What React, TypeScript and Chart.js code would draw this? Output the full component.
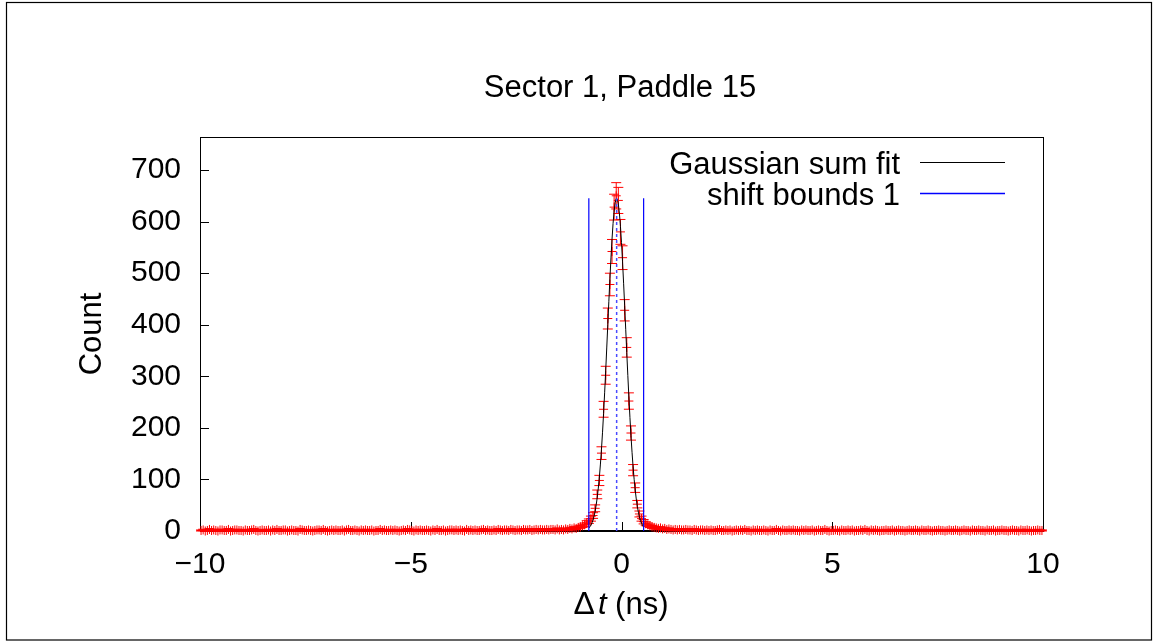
import React, { useEffect, useRef } from "react";
import { Chart, registerables } from "chart.js";

Chart.register(...registerables);

// ---- data ----
const binStart = -10;
const binWidth = 0.05;

// counts for bins centred at -9.975 ... -1.525
const leftBaselineCounts = [
  1, 2, 0, 1, 3, 1, 2, 1, 0, 2,
  2, 1, 1, 3, 0, 1, 2, 2, 1, 1,
  0, 2, 1, 1, 2, 3, 1, 0, 1, 2,
  1, 1, 2, 0, 2, 1, 3, 1, 1, 2,
  2, 0, 1, 2, 1, 1, 0, 3, 2, 1,
  1, 2, 1, 0, 1, 2, 2, 1, 3, 1,
  0, 1, 2, 1, 2, 1, 1, 2, 0, 2,
  3, 1, 1, 2, 1, 0, 2, 1, 2, 1,
  1, 2, 0, 1, 1, 3, 1, 2, 1, 1,
  2, 1, 2, 1, 0, 1, 2, 1, 3, 2,
  1, 0, 2, 1, 2, 1, 1, 2, 1, 0,
  2, 1, 3, 1, 1, 2, 0, 1, 2, 2,
  1, 2, 1, 2, 1, 0, 3, 1, 2, 1,
  2, 1, 1, 2, 3, 1, 2, 1, 1, 2,
  1, 3, 2, 1, 2, 2, 1, 3, 2, 1,
  2, 2, 1, 3, 2, 2, 3, 1, 2, 3,
  2, 3, 2, 2, 3, 2, 3, 3, 2, 4,
];

// counts for bins centred at -1.475 ... 1.475
const peakCounts = [
  2, 3, 2, 4, 3, 5, 4, 6, 5, 7,
  8, 10, 12, 16, 19, 24, 30, 44, 71, 98,
  151, 236, 302, 412, 478, 542, 628, 650, 641, 580,
  530, 428, 356, 252, 190, 118, 84, 52, 33, 24,
  18, 14, 12, 10, 8, 7, 6, 5, 6, 4,
  5, 3, 4, 3, 2, 3, 2, 3, 2, 2,
];

// counts for bins centred at 1.525 ... 9.975
const rightBaselineCounts = [
  3, 2, 2, 1, 3, 2, 1, 2, 2, 1,
  2, 1, 2, 1, 1, 2, 3, 1, 1, 2,
  1, 2, 0, 1, 2, 1, 2, 1, 3, 1,
  1, 0, 2, 1, 2, 1, 1, 2, 1, 0,
  2, 1, 1, 3, 1, 0, 2, 1, 1, 2,
  1, 2, 1, 1, 0, 2, 1, 2, 1, 1,
  2, 0, 1, 2, 1, 1, 3, 1, 0, 1,
  1, 2, 1, 0, 2, 1, 1, 2, 1, 2,
  0, 1, 1, 2, 1, 3, 1, 0, 2, 1,
  2, 1, 0, 1, 1, 2, 1, 1, 2, 0,
  1, 2, 1, 1, 0, 1, 2, 1, 1, 2,
  1, 0, 2, 1, 1, 2, 1, 0, 1, 1,
  2, 1, 1, 0, 1, 2, 1, 1, 2, 1,
  0, 1, 2, 1, 1, 0, 2, 1, 1, 2,
  1, 1, 0, 2, 1, 1, 2, 0, 1, 1,
  2, 1, 1, 0, 1, 2, 1, 1, 0, 2,
  1, 1, 2, 1, 0, 1, 1, 2, 1, 1,
];

// Gaussian sum fit curve, drawn between the shift bounds
const fitX = [
  -0.775, -0.75, -0.725, -0.7, -0.675, -0.65, -0.625, -0.6, -0.575, -0.55,
  -0.525, -0.5, -0.475, -0.45, -0.425, -0.4, -0.375, -0.35, -0.325, -0.3,
  -0.275, -0.25, -0.225, -0.2, -0.175, -0.15, -0.125, -0.1, -0.075, -0.05,
  -0.025, 0, 0.025, 0.05, 0.075, 0.1, 0.125, 0.15, 0.175, 0.2,
  0.225, 0.25, 0.275, 0.3, 0.325, 0.35, 0.375, 0.4, 0.425, 0.45,
  0.475, 0.5, 0.525,
];
const fitY = [
  5.8, 8.2, 11.5, 15.9, 21.7, 29.2, 38.7, 50.7, 65.4, 83.3,
  104.7, 129.8, 158.7, 191.6, 228.1, 267.9, 310.4, 354.9, 400.3, 445.4,
  489.0, 529.6, 565.9, 596.5, 620.4, 636.5, 644.3, 643.4, 633.9, 616.2,
  590.9, 559.0, 521.8, 480.5, 436.5, 391.2, 345.9, 301.8, 259.7, 220.5,
  184.7, 152.7, 124.5, 100.1, 79.5, 62.2, 48.0, 36.6, 27.5, 20.4,
  15.0, 10.8, 7.7,
];

const boundLow = -0.775;
const boundHigh = 0.525;
const peakCenter = -0.115;
const boundTop = 645;

const xTicks = [-10, -5, 0, 5, 10];
const yTicks = [0, 100, 200, 300, 400, 500, 600, 700];
const xMin = -10;
const xMax = 10;
const yMin = 0;
const yMax = 764;

const titleText = "Sector 1, Paddle 15";
const yTitle = "Count";
const legendLabels = ["Gaussian sum fit", "shift bounds 1"];

const FONT = '"Liberation Sans", Arial, Helvetica, sans-serif';

const fmt = (v: number) => (v < 0 ? "\u2212" + Math.abs(v) : String(v));

export default function App() {
  const ref = useRef<HTMLCanvasElement | null>(null);

  useEffect(() => {
    const canvas = ref.current;
    if (!canvas) return;

    const counts = [...leftBaselineCounts, ...peakCounts, ...rightBaselineCounts];
    const histPoints = counts.map((c, i) => ({ x: binStart + binWidth * (i + 0.5), y: c }));
    const fitPoints = fitX.map((x, i) => ({ x, y: fitY[i] }));

    const decor = {
      id: "decor",
      beforeDatasetsDraw(chart: any) {
        const { ctx, chartArea: a, scales } = chart;
        const xs = scales.x;
        const ys = scales.y;
        ctx.save();
        // plot frame
        ctx.strokeStyle = "#000";
        ctx.lineWidth = 1;
        ctx.strokeRect(a.left + 0.5, a.top + 0.5, a.right - a.left, a.bottom - a.top);
        ctx.lineWidth = 2;
        ctx.beginPath();
        ctx.moveTo(a.left, a.bottom);
        ctx.lineTo(a.right + 1, a.bottom);
        ctx.stroke();
        // inner ticks
        ctx.lineWidth = 1;
        ctx.beginPath();
        for (const v of yTicks) {
          const py = Math.round(ys.getPixelForValue(v)) + 0.5;
          ctx.moveTo(a.left, py);
          ctx.lineTo(a.left + 9, py);
        }
        for (const v of xTicks) {
          const px = Math.round(xs.getPixelForValue(v)) + 0.5;
          ctx.moveTo(px, a.bottom);
          ctx.lineTo(px, a.bottom - 9);
        }
        ctx.stroke();
        // error bars
        ctx.strokeStyle = "#ff0000";
        ctx.lineWidth = 1;
        ctx.beginPath();
        for (const p of histPoints) {
          const px = xs.getPixelForValue(p.x);
          const e = Math.sqrt(p.y);
          const y1 = ys.getPixelForValue(p.y - e);
          const y2 = ys.getPixelForValue(p.y + e);
          ctx.moveTo(px, y1);
          ctx.lineTo(px, y2);
          ctx.moveTo(px - 5, y1);
          ctx.lineTo(px + 5, y1);
          ctx.moveTo(px - 5, y2);
          ctx.lineTo(px + 5, y2);
        }
        ctx.stroke();
        ctx.restore();
      },
      afterDraw(chart: any) {
        const { ctx } = chart;
        ctx.save();
        // outer frame
        ctx.strokeStyle = "#000";
        ctx.lineWidth = 1.2;
        ctx.strokeRect(6.5, 2.5, 1145, 637.5);

        ctx.fillStyle = "#000";
        ctx.font = `31px ${FONT}`;
        // title
        ctx.textAlign = "center";
        ctx.textBaseline = "alphabetic";
        ctx.fillText(titleText, 620, 97);

        // y title
        ctx.save();
        ctx.translate(101, 334);
        ctx.rotate(-Math.PI / 2);
        ctx.textAlign = "center";
        ctx.fillText(yTitle, 0, 0);
        ctx.restore();

        // x title: Δt (ns) with italic t
        const partA = "\u0394";
        const partB = "t";
        const partC = " (ns)";
        ctx.font = `32px ${FONT}`;
        const wA = ctx.measureText(partA).width;
        ctx.font = `31px ${FONT}`;
        const wC = ctx.measureText(partC).width;
        ctx.font = `italic 31px ${FONT}`;
        const wB = ctx.measureText(partB).width;
        const total = wA + wB + wC + 3;
        let sx = 621 - total / 2;
        const by = 614;
        ctx.textAlign = "left";
        ctx.font = `32px ${FONT}`;
        ctx.fillText(partA, sx, by);
        sx += wA + 3;
        ctx.font = `italic 31px ${FONT}`;
        ctx.fillText(partB, sx, by);
        sx += wB;
        ctx.font = `31px ${FONT}`;
        ctx.fillText(partC, sx, by);

        // legend
        const legendColors = ["rgb(0,0,0)", "rgb(0,0,255)"];
        const legendWidths = [1, 1.6];
        const lineYs = [162.5, 193.5];
        ctx.textAlign = "right";
        for (let i = 0; i < legendLabels.length; i++) {
          ctx.fillStyle = "#000";
          ctx.fillText(legendLabels[i], 900, lineYs[i] + 11);
        }
        for (let i = 0; i < legendLabels.length; i++) {
          ctx.strokeStyle = legendColors[i];
          ctx.lineWidth = legendWidths[i];
          ctx.beginPath();
          ctx.moveTo(920, lineYs[i]);
          ctx.lineTo(1005, lineYs[i]);
          ctx.stroke();
        }
        ctx.restore();
      },
    };

    const chart = new Chart(canvas, {
      type: "scatter",
      data: {
        datasets: [
          {
            label: "center",
            type: "line",
            data: [
              { x: peakCenter, y: 0 },
              { x: peakCenter, y: boundTop },
            ],
            borderColor: "#4a4aff",
            borderWidth: 1.5,
            borderDash: [3, 3],
            pointRadius: 0,
            fill: false,
            order: 0,
          } as any,
          {
            label: "shift bounds 1",
            type: "line",
            data: [
              { x: boundLow, y: 0 },
              { x: boundLow, y: boundTop },
            ],
            borderColor: "#0000ff",
            borderWidth: 1.2,
            pointRadius: 0,
            fill: false,
            order: 1,
          } as any,
          {
            label: "shift bounds 1b",
            type: "line",
            data: [
              { x: boundHigh, y: 0 },
              { x: boundHigh, y: boundTop },
            ],
            borderColor: "#0000ff",
            borderWidth: 1.2,
            pointRadius: 0,
            fill: false,
            order: 2,
          } as any,
          {
            label: "Gaussian sum fit",
            type: "line",
            data: fitPoints,
            borderColor: "#000000",
            borderWidth: 1,
            pointRadius: 0,
            fill: false,
            tension: 0,
            order: 3,
          } as any,
          {
            label: "data",
            data: histPoints,
            pointStyle: "cross",
            pointRadius: 4.5,
            pointBorderColor: "#ff0000",
            pointBackgroundColor: "#ff0000",
            pointBorderWidth: 1,
            borderColor: "#ff0000",
            showLine: false,
            clip: false,
            order: 4,
          } as any,
        ],
      },
      options: {
        responsive: false,
        animation: false,
        devicePixelRatio: 1,
        layout: { padding: { top: 137, right: 110, bottom: 0, left: 0 } },
        plugins: {
          legend: { display: false },
          title: { display: false },
          tooltip: { enabled: false },
        },
        events: [],
        scales: {
          x: {
            type: "linear",
            min: xMin,
            max: xMax,
            grid: { display: false, drawTicks: false },
            border: { display: false },
            ticks: {
              color: "#000",
              font: { family: FONT, size: 30 },
              padding: 16,
              maxRotation: 0,
              autoSkip: false,
              callback: (v: any) => fmt(Number(v)),
            },
            afterBuildTicks: (s: any) => {
              s.ticks = xTicks.map((v) => ({ value: v }));
            },
            afterFit: (s: any) => {
              s.height = 111;
            },
          },
          y: {
            type: "linear",
            min: yMin,
            max: yMax,
            grid: { display: false, drawTicks: false },
            border: { display: false },
            ticks: {
              color: "#000",
              font: { family: FONT, size: 30 },
              padding: 19,
              autoSkip: false,
              callback: (v: any) => String(v),
            },
            afterBuildTicks: (s: any) => {
              s.ticks = yTicks.map((v) => ({ value: v }));
            },
            afterFit: (s: any) => {
              s.width = 200;
            },
          },
        },
      } as any,
      plugins: [decor],
    });

    return () => {
      chart.destroy();
    };
  }, []);

  return (
    <div style={{ position: "absolute", left: 0, top: 0, width: 1153, height: 642, background: "#fff" }}>
      <canvas ref={ref} width={1153} height={642} style={{ display: "block" }} />
    </div>
  );
}
